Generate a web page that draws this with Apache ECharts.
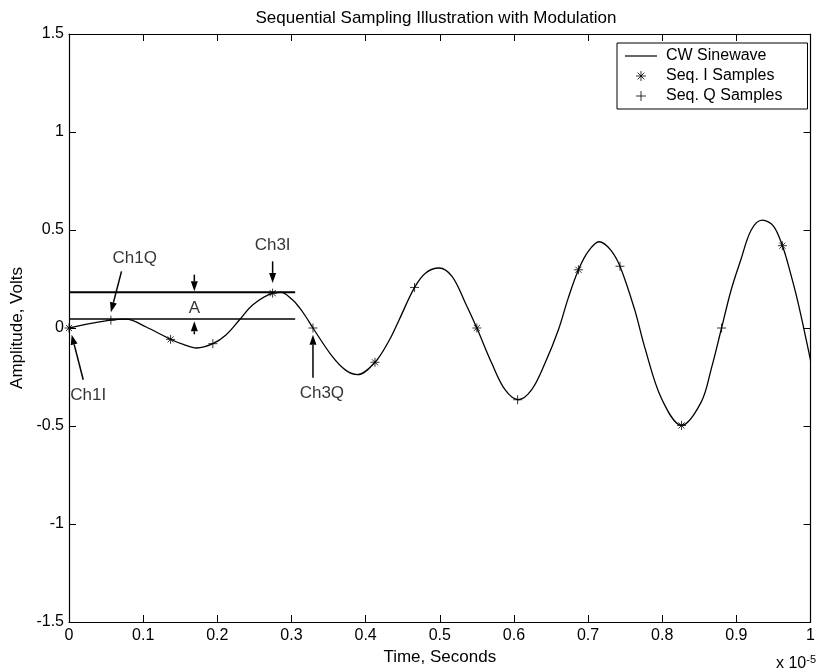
<!DOCTYPE html>
<html><head><meta charset="utf-8">
<script src="https://cdn.jsdelivr.net/npm/echarts@6/dist/echarts.min.js"></script>
<style>html,body{margin:0;padding:0;background:#fff}#c{width:818px;height:672px}</style>
</head><body><div id="c"></div>
<script>
// time in units of 1e-5 s, amplitude in volts
const curveT = [0, 0.028, 0.056, 0.077, 0.104, 0.136, 0.155, 0.172, 0.194, 0.212, 0.230, 0.248, 0.275, 0.286, 0.301, 0.3105, 0.319, 0.329, 0.355, 0.373, 0.389, 0.4126, 0.4315, 0.445, 0.466, 0.481, 0.499, 0.5165, 0.5345, 0.550, 0.570, 0.588, 0.606, 0.624, 0.642, 0.660, 0.673, 0.687, 0.700, 0.715, 0.730, 0.743, 0.763, 0.7765, 0.799, 0.826, 0.8525, 0.866, 0.880, 0.893, 0.906, 0.920, 0.935, 0.950, 0.962, 0.969, 0.9825, 1.0];
const curveV = [0, 0.022, 0.040, 0.045, 0.005, -0.056, -0.085, -0.102, -0.080, -0.034, 0.042, 0.119, 0.178, 0.182, 0.145, 0.105, 0.060, 0, -0.145, -0.215, -0.238, -0.175, -0.065, 0.040, 0.207, 0.281, 0.306, 0.263, 0.128, 0, -0.179, -0.315, -0.366, -0.315, -0.179, -0.009, 0.150, 0.297, 0.390, 0.440, 0.400, 0.315, 0.091, -0.100, -0.360, -0.497, -0.378, -0.210, 0, 0.195, 0.348, 0.500, 0.550, 0.520, 0.420, 0.335, 0.140, -0.165];
const iSampleT = [0, 0.137, 0.2746, 0.4126, 0.550, 0.687, 0.826, 0.962];
const iSampleV = [0, -0.058, 0.178, -0.175, 0, 0.297, -0.497, 0.420];
const qSampleT = [0.0565, 0.194, 0.329, 0.466, 0.605, 0.743, 0.880];
const qSampleV = [0.040, -0.080, 0, 0.207, -0.366, 0.315, 0];
const seriesNames = ['CW Sinewave', 'Seq. I Samples', 'Seq. Q Samples'];
// level lines marking amplitude A
const levelY = [0.182, 0.046];
const levelX = [0, 0.305];
// annotations: [tailX, tailY, tipX, tipY]
const arrowData = [
  [0.0192, -0.264, 0.0036, -0.034],
  [0.0708, 0.289, 0.0565, 0.080],
  [0.169, 0.272, 0.169, 0.187],
  [0.169, -0.032, 0.169, 0.034],
  [0.2746, 0.340, 0.2746, 0.230],
  [0.329, -0.254, 0.329, -0.034]
];
const labelData = [
  [0.026, -0.345, 'Ch1I'],
  [0.0887, 0.357, 'Ch1Q'],
  [0.169, 0.098, 'A'],
  [0.2746, 0.420, 'Ch3I'],
  [0.341, -0.335, 'Ch3Q']
];

const FONT = "'Liberation Sans', Arial, Helvetica, sans-serif";
const zip = (a, b) => a.map((v, i) => [v, b[i]]);
const asterisk = 'path://M5,0L5,10M0,5L10,5M1.6,1.6L8.4,8.4M1.6,8.4L8.4,1.6';
const plus = 'path://M5,0L5,10M0,5L10,5';
const lineIcon = 'path://M0,0L32,0L32,1.2L0,1.2Z';
const markStyle = {color: 'rgba(0,0,0,0)', borderColor: '#000', borderWidth: 1};

const chart = echarts.init(document.getElementById('c'), null, {renderer: 'canvas'});
const axisCommon = () => ({
  axisLine: {show: true, onZero: false, lineStyle: {color: '#000', width: 1.2}},
  axisTick: {show: true, inside: true, length: 7, lineStyle: {color: '#000', width: 1}},
  splitLine: {show: false}
});
chart.setOption({
  animation: false,
  backgroundColor: '#fff',
  textStyle: {fontFamily: FONT},
  grid: {left: 69, right: 5, top: 34, bottom: 50, containLabel: false},
  xAxis: [
    Object.assign({type: 'value', min: 0, max: 1, interval: 0.1, position: 'bottom',
      name: 'Time, Seconds', nameLocation: 'middle', nameGap: 24,
      nameTextStyle: {color: '#000', fontSize: 17, fontFamily: FONT},
      axisLabel: {color: '#000', fontSize: 16, margin: 6, fontFamily: FONT}}, axisCommon()),
    Object.assign({type: 'value', min: 0, max: 1, interval: 0.1, position: 'top',
      axisLabel: {show: false}}, axisCommon())
  ],
  yAxis: [
    Object.assign({type: 'value', min: -1.5, max: 1.5, interval: 0.5, position: 'left',
      name: 'Amplitude, Volts', nameLocation: 'middle', nameGap: 40,
      nameTextStyle: {color: '#000', fontSize: 17, fontFamily: FONT},
      axisLabel: {color: '#000', fontSize: 16, margin: 5, fontFamily: FONT}}, axisCommon()),
    Object.assign({type: 'value', min: -1.5, max: 1.5, interval: 0.5, position: 'right',
      axisLabel: {show: false}}, axisCommon())
  ],
  legend: {
    orient: 'vertical', left: 617, top: 43,
    padding: [5, 25, 5, 8], itemGap: 4, itemWidth: 32, itemHeight: 10,
    backgroundColor: '#fff', borderColor: '#000', borderWidth: 1, borderRadius: 0,
    textStyle: {color: '#000', fontSize: 16, fontFamily: FONT, padding: [0, 0, 0, 4]},
    data: [
      {name: seriesNames[0], icon: lineIcon, itemStyle: {color: '#000', borderWidth: 0}},
      {name: seriesNames[1], icon: asterisk, itemStyle: markStyle},
      {name: seriesNames[2], icon: plus, itemStyle: markStyle}
    ]
  },
  graphic: [
    {type: 'text', x: 436, y: 18, style: {text: 'Sequential Sampling Illustration with Modulation',
      fill: '#000', font: '17px ' + FONT, textAlign: 'center', textVerticalAlign: 'middle'}},
    {type: 'text', x: 776, y: 654, style: {text: 'x 10{s|-5}', fill: '#000', font: '16px ' + FONT,
      rich: {s: {fontSize: 11, verticalAlign: 'top', padding: [0, 0, 8, 0], fontFamily: FONT}}}}
  ],
  series: [
    {name: seriesNames[0], type: 'line', data: zip(curveT, curveV), smooth: 0.35,
      showSymbol: false, symbol: 'none', lineStyle: {color: '#000', width: 1.3}, itemStyle: {color: '#000'}, z: 3},
    {name: seriesNames[1], type: 'scatter', data: zip(iSampleT, iSampleV), symbol: asterisk, symbolSize: 9,
      itemStyle: markStyle, z: 4},
    {name: seriesNames[2], type: 'scatter', data: zip(qSampleT, qSampleV), symbol: plus, symbolSize: 9,
      itemStyle: markStyle, z: 4},
    {type: 'line', data: levelX.map(x => [x, levelY[0]]), symbol: 'none', lineStyle: {color: '#000', width: 2}, z: 2},
    {type: 'line', data: levelX.map(x => [x, levelY[1]]), symbol: 'none', lineStyle: {color: '#000', width: 1.5}, z: 2},
    {type: 'custom', data: arrowData, encode: {x: [0, 2], y: [1, 3]}, z: 5,
      renderItem: function (params, api) {
        const p1 = api.coord([api.value(0), api.value(1)]);
        const p2 = api.coord([api.value(2), api.value(3)]);
        const dx = p2[0] - p1[0], dy = p2[1] - p1[1];
        const len = Math.sqrt(dx * dx + dy * dy) || 1;
        const ux = dx / len, uy = dy / len;
        const hl = 10, hw = 3.5;
        const bx = p2[0] - ux * hl, by = p2[1] - uy * hl;
        return {type: 'group', children: [
          {type: 'line', shape: {x1: p1[0], y1: p1[1], x2: bx, y2: by}, style: {stroke: '#000', lineWidth: 1.5}},
          {type: 'polygon', shape: {points: [[p2[0], p2[1]], [bx - uy * hw, by + ux * hw], [bx + uy * hw, by - ux * hw]]},
            style: {fill: '#000'}}
        ]};
      }},
    {type: 'scatter', data: labelData, symbolSize: 0, z: 6, silent: true,
      label: {show: true, position: 'inside', color: '#000', fontSize: 17, fontFamily: FONT,
        textBorderWidth: 0, textBorderColor: 'transparent', formatter: p => p.data[2]}}
  ]
});
</script></body></html>
